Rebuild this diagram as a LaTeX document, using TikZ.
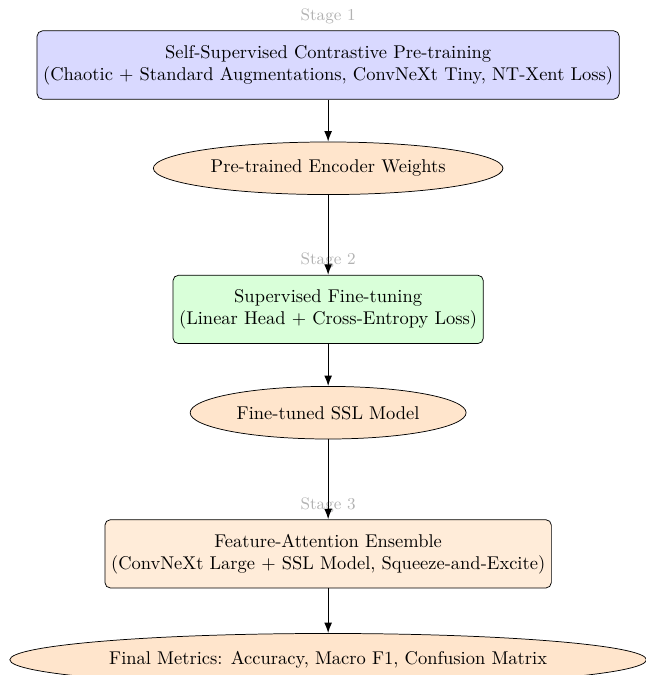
\documentclass[tikz,border=0pt]{standalone}
\usepackage{color}
\usepackage{tikz}
\usetikzlibrary{shapes,arrows.meta,positioning}

\begin{document}
\begin{tikzpicture}[node distance=0.8cm, >=Latex]
\tikzset{stagebox/.style={draw, rounded corners=3pt, align=center, minimum height=1.3cm}}
\tikzset{outbox/.style={draw, ellipse, fill=orange!20, minimum height=1cm}}
\tikzset{stagelabel/.style={font=\small, text=black!30}}
\tikzset{flow/.style={->, semithick}}
\useasboundingbox (-6.24,1.236) rectangle (6.03,-11.6);

%Stage 1
\node[stagebox, fill=blue!15, label={[stagelabel]above:Stage 1}] (pretrain) at (0,0)
 {Self-Supervised Contrastive Pre-training\\(Chaotic + Standard Augmentations, ConvNeXt Tiny, NT-Xent Loss)};
\node[outbox, below=of pretrain] (weights) {Pre-trained Encoder Weights};

%Stage 2
\node[stagebox, fill=green!15, below=1.52cm of weights, label={[stagelabel]above:Stage 2}] (finetune)
 {Supervised Fine-tuning\\(Linear Head + Cross-Entropy Loss)};
\node[outbox, below=of finetune] (sslmodel) {Fine-tuned SSL Model};

%Stage 3
\node[stagebox, fill=orange!15, below=1.52cm of sslmodel, label={[stagelabel]above:Stage 3}] (ensemble)
 {Feature-Attention Ensemble\\(ConvNeXt Large + SSL Model, Squeeze-and-Excite)};
\node[outbox, below=0.85cm of ensemble] (metrics) {Final Metrics: Accuracy, Macro F1, Confusion Matrix};

% Arrows
\draw[flow] (pretrain) -- (weights);
\draw[flow] (weights) -- (finetune);
\draw[flow] (finetune) -- (sslmodel);
\draw[flow] (sslmodel) -- (ensemble);
\draw[flow] (ensemble) -- (metrics);

\end{tikzpicture}
\end{document}
